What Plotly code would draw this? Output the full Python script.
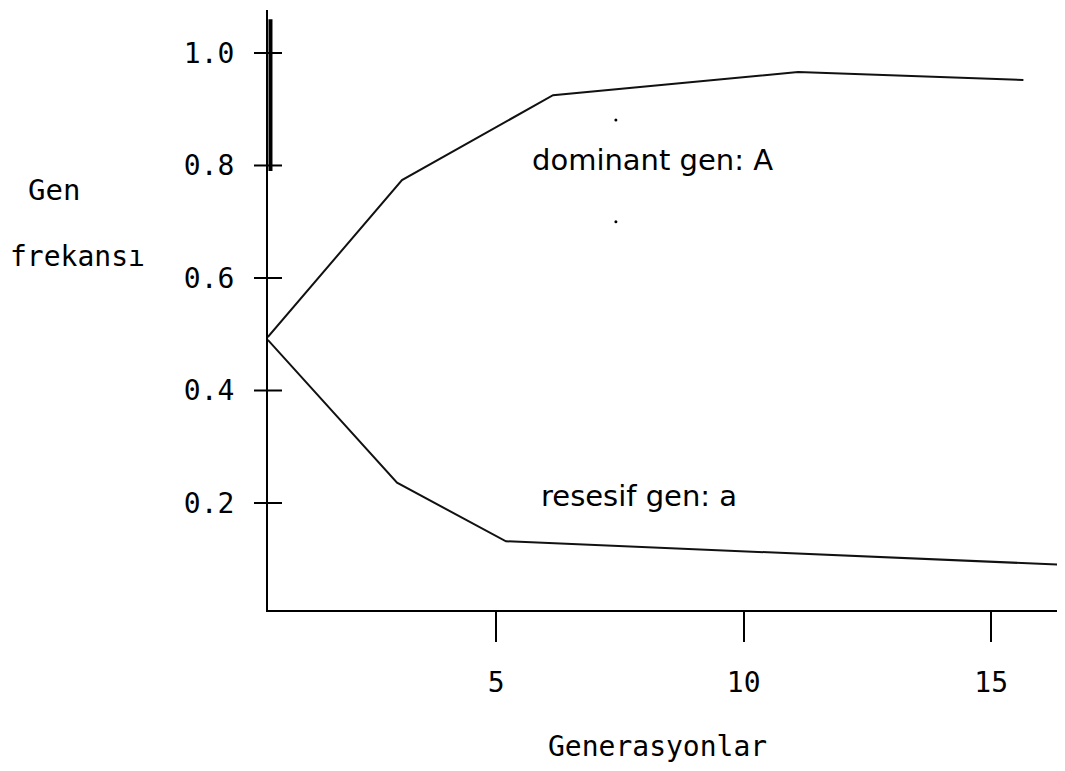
import plotly.graph_objects as go

# Data
dominant_x = [0.39, 3.1, 6.15, 11.1, 15.65]
dominant_y = [0.495, 0.774, 0.925, 0.966, 0.952]
recessive_x = [0.39, 3.0, 5.2, 16.5]
recessive_y = [0.49, 0.236, 0.132, 0.09]

x_ticks = [5, 10, 15]
x_tick_labels = ["5", "10", "15"]
y_ticks = [0.2, 0.4, 0.6, 0.8, 1.0]
y_tick_labels = ["0.2", "0.4", "0.6", "0.8", "1.0"]

bold_segment_y = [0.79, 1.06]
marker_dots_x = [7.42, 7.42]
marker_dots_y = [0.881, 0.70]

x_range = [0.394, 16.49]
y_range = [0.0098, 1.0764]

mono = "DejaVu Sans Mono"
sans = "DejaVu Sans"

# The page body has an 8px margin; plot area maps to screen x 268..1065, y 10..610
PLOT_L, PLOT_W, PLOT_B, PLOT_H = 268, 797, 610, 600


def px(sx):
    return (sx - PLOT_L) / PLOT_W


def py(sy):
    return (PLOT_B - sy) / PLOT_H


fig = go.Figure()
fig.add_trace(go.Scatter(x=dominant_x, y=dominant_y, mode="lines",
                         line=dict(color="#111", width=2), showlegend=False))
fig.add_trace(go.Scatter(x=recessive_x, y=recessive_y, mode="lines",
                         line=dict(color="#111", width=2), showlegend=False))
# crossing y tick marks
fig.add_trace(go.Scatter(x=[x_range[0]] * len(y_ticks), y=y_ticks, mode="markers",
                         marker=dict(symbol="line-ew", size=20, line=dict(color="black", width=2)),
                         cliponaxis=False, showlegend=False))
# thick part of y axis
fig.add_trace(go.Scatter(x=[x_range[0] + 0.05] * 2, y=bold_segment_y, mode="lines",
                         line=dict(color="black", width=4), cliponaxis=False, showlegend=False))
fig.add_trace(go.Scatter(x=marker_dots_x, y=marker_dots_y, mode="markers",
                         marker=dict(color="black", size=3), showlegend=False))

fig.add_annotation(x=8.15, y=0.81, text="dominant gen: A", showarrow=False,
                   font=dict(family=sans, size=29, color="black"))
fig.add_annotation(x=7.89, y=0.212, text="resesif gen: a", showarrow=False,
                   font=dict(family=sans, size=29, color="black"))
fig.add_annotation(x=px(54), y=py(190), xref="paper", yref="paper", text="Gen", showarrow=False,
                   xanchor="center", yanchor="middle",
                   font=dict(family=mono, size=29, color="black"))
fig.add_annotation(x=px(77), y=py(257), xref="paper", yref="paper", text="frekansı", showarrow=False,
                   xanchor="center", yanchor="middle",
                   font=dict(family=mono, size=28, color="black"))
fig.add_annotation(x=px(657), y=py(746), xref="paper", yref="paper", text="Generasyonlar",
                   xanchor="center", yanchor="middle",
                   showarrow=False, font=dict(family=mono, size=28, color="black"))

fig.update_layout(
    width=1057, height=763,
    margin=dict(l=260, r=0, t=2, b=161),
    paper_bgcolor="white", plot_bgcolor="white",
    xaxis=dict(range=x_range, showgrid=False, zeroline=False, showline=True,
               linecolor="black", linewidth=2, ticks="outside", ticklen=30, tickwidth=2,
               tickcolor="black", tickvals=x_ticks, ticktext=x_tick_labels,
               tickfont=dict(family=mono, size=28, color="black"), ticklabelstandoff=16),
    yaxis=dict(range=y_range, showgrid=False, zeroline=False, showline=True,
               linecolor="black", linewidth=2, ticks="",
               tickvals=y_ticks, ticktext=y_tick_labels,
               tickfont=dict(family=mono, size=28, color="black"), ticklabelstandoff=26),
)

fig.write_html("out.html")
